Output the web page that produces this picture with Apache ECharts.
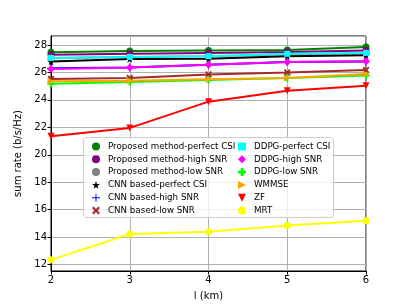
<!DOCTYPE html>
<html><head><meta charset="utf-8">
<script src="https://cdn.jsdelivr.net/npm/echarts@6/dist/echarts.min.js"></script>
<style>html,body{margin:0;padding:0;background:#fff}#c{width:407px;height:306px}</style>
</head><body><div id="c"></div>
<script>
const xValues = [2, 3, 4, 5, 6];
const seriesNames = [
  'Proposed method-perfect CSI', 'Proposed method-high SNR', 'Proposed method-low SNR',
  'CNN based-perfect CSI', 'CNN based-high SNR', 'CNN based-low SNR',
  'DDPG-perfect CSI', 'DDPG-high SNR', 'DDPG-low SNR', 'WMMSE', 'ZF', 'MRT'
];
const propPerfect = [27.47, 27.56, 27.60, 27.63, 27.85];
const propHigh    = [27.28, 27.35, 27.42, 27.48, 27.60];
const propLow     = [27.05, 27.12, 27.17, 27.33, 27.40];
const cnnPerfect  = [26.80, 26.98, 27.00, 27.17, 27.25];
const cnnHigh     = [26.30, 26.36, 26.55, 26.75, 26.80];
const cnnLow      = [25.52, 25.60, 25.85, 26.00, 26.17];
const ddpgPerfect = [27.05, 27.12, 27.18, 27.35, 27.42];
const ddpgHigh    = [26.25, 26.36, 26.55, 26.76, 26.82];
const ddpgLow     = [25.17, 25.30, 25.45, 25.60, 25.78];
const wmmse       = [25.35, 25.40, 25.50, 25.60, 25.88];
const zf          = [21.35, 21.96, 23.87, 24.67, 25.03];
const mrt         = [12.35, 14.23, 14.40, 14.86, 15.20];
const allValues = [propPerfect, propHigh, propLow, cnnPerfect, cnnHigh, cnnLow,
                   ddpgPerfect, ddpgHigh, ddpgLow, wmmse, zf, mrt];
const colors = ['#008000', '#800080', '#808080', '#000000', '#0000ff', '#a52a2a',
                '#00ffff', '#ff00ff', '#00ff00', '#ffa500', '#ff0000', '#ffff00'];

const STAR = 'path://M50,0 L61,35 L98,35 L68,57 L79,91 L50,70 L21,91 L32,57 L2,35 L39,35 Z';
const PLUS = 'path://M44,0 H56 V44 H100 V56 H56 V100 H44 V56 H0 V44 H44 Z';
const XFILL = 'path://M20,0 L50,30 L80,0 L100,20 L70,50 L100,80 L80,100 L50,70 L20,100 L0,80 L30,50 L0,20 Z';
const PFILL = 'path://M33,0 H67 V33 H100 V67 H67 V100 H33 V67 H0 V33 H33 Z';
const TRI_R = 'path://M0,0 L100,50 L0,100 Z';
const TRI_D = 'path://M0,0 L100,0 L50,100 Z';
const symbols = ['circle', 'circle', 'circle', STAR, PLUS, XFILL,
                 'rect', 'diamond', PFILL, TRI_R, TRI_D, 'circle'];
const symSizes = [7, 7, 7, 8, 8, 7, 6, 8, 7, 7, 7, 7];

const chart = echarts.init(document.getElementById('c'));
const series = seriesNames.map((n, i) => ({
  name: n, type: 'line',
  data: xValues.map((x, j) => [x, allValues[i][j]]),
  symbol: symbols[i], symbolSize: symSizes[i], showSymbol: true,
  lineStyle: { color: colors[i], width: 2 },
  itemStyle: { color: colors[i] },
  z: 2 + i, animation: false
}));
const legendCommon = {
  orient: 'vertical', itemWidth: 8, itemHeight: 8, itemGap: 1.8,
  formatter: '{t|{name}}',
  textStyle: { fontFamily: 'DejaVu Sans', fontSize: 8.7, color: '#000', lineHeight: 11,
    rich: { t: { fontFamily: 'DejaVu Sans', fontSize: 8.7, color: '#000', lineHeight: 11, padding: [0, 0, 0, 3] } } },
  padding: 0, z: 40, selectedMode: false
};
chart.setOption({
  animation: false,
  grid: { left: 51, right: 41, top: 36, bottom: 34, show: true, borderColor: '#000', borderWidth: 1 },
  xAxis: {
    type: 'value', min: 2, max: 6, interval: 1,
    name: 'l (km)', nameLocation: 'middle', nameGap: 20,
    nameTextStyle: { fontFamily: 'DejaVu Sans', fontSize: 10, color: '#000' },
    axisLine: { lineStyle: { color: '#000' } },
    axisTick: { inside: false, length: 3.5, lineStyle: { color: '#000' } },
    axisLabel: { fontFamily: 'DejaVu Sans', fontSize: 10, color: '#000', margin: 4 },
    splitLine: { show: true, lineStyle: { color: '#b0b0b0', width: 1 } }
  },
  yAxis: {
    type: 'value', min: 11.54, max: 28.65, minInterval: 2, maxInterval: 2,
    name: 'sum rate (b/s/Hz)', nameLocation: 'middle', nameGap: 19,
    nameTextStyle: { fontFamily: 'DejaVu Sans', fontSize: 10, color: '#000' },
    axisLine: { show: true, lineStyle: { color: '#000' } },
    axisTick: { show: true, inside: false, length: 3.5, lineStyle: { color: '#000' } },
    axisLabel: { fontFamily: 'DejaVu Sans', fontSize: 10, color: '#000', margin: 4, showMinLabel: false, showMaxLabel: false },
    splitLine: { show: true, lineStyle: { color: '#b0b0b0', width: 1 } }
  },
  legend: [
    Object.assign({}, legendCommon, { left: 92, top: 141, data: seriesNames.slice(0, 6).map((n, i) => ({ name: n, icon: symbols[i] })) }),
    Object.assign({}, legendCommon, { left: 238, top: 141, data: seriesNames.slice(6).map((n, i) => ({ name: n, icon: symbols[i + 6] })) })
  ],
  graphic: [{
    type: 'rect', shape: { x: 83.5, y: 137.5, width: 250, height: 80, r: 3 },
    style: { fill: 'rgba(255,255,255,0.8)', stroke: '#cccccc', lineWidth: 1 }, z: 30
  }],
  series: series
});
</script></body></html>
